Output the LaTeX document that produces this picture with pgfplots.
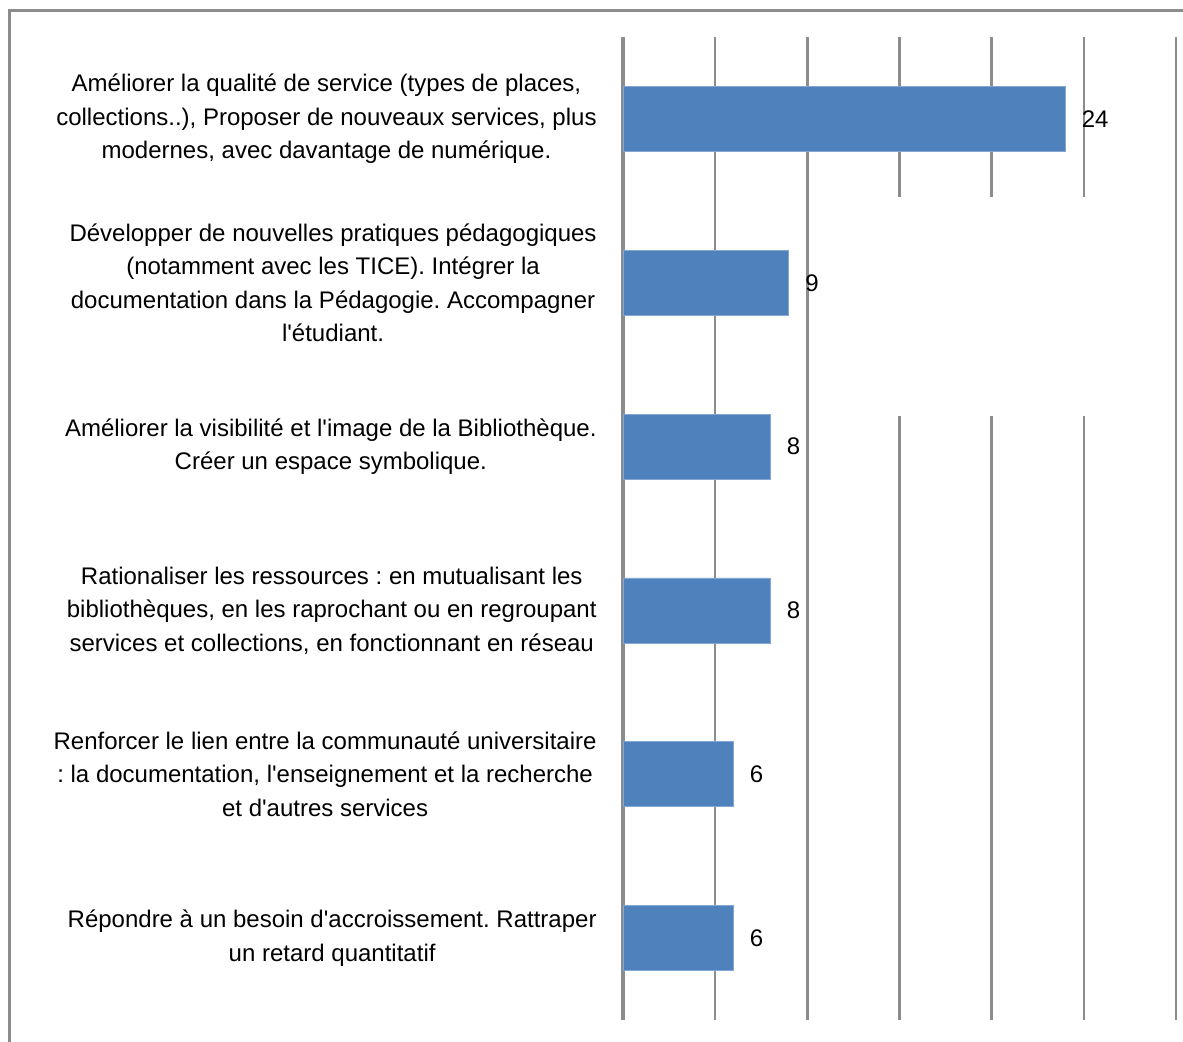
\documentclass[border=0pt]{standalone}
\usepackage{fontspec}
\setmainfont{Liberation Sans}
\usepackage{pgfplots}
\pgfplotsset{compat=1.18}
\definecolor{barblue}{HTML}{4F81BD}
\definecolor{gridgray}{HTML}{8C8C8C}
\newcommand{\q}{\textquotesingle}
\frenchspacing
\begin{document}
\begin{tikzpicture}
\useasboundingbox (-311.5pt,-10.5pt) rectangle (280pt,510pt);
\draw[gridgray, line width=1.5pt] (-306.75pt,-12pt) -- (-306.75pt,504.75pt) -- (285pt,504.75pt);
\begin{axis}[
  at={(0pt,0pt)}, anchor=south west,
  scale only axis,
  width=276.5pt, height=491.5pt,
  xbar, bar width=32.5pt,
  xmin=0, xmax=30,
  ymin=-0.5, ymax=5.5,
  y dir=reverse,
  axis lines*=left,
  x axis line style={draw=none},
  y axis line style={gridgray, line width=1.6pt, -},
  xtick={0,5,...,30},
  xticklabels={},
  xmajorgrids,
  major grid style={gridgray, line width=1.2pt},
  ytick={0,...,5},
  major tick length=0pt,
  tick style={draw=none},
  yticklabels={
    {Améliorer la qualité de service (types de places,\\collections..), Proposer de nouveaux services, plus\\modernes, avec davantage de numérique.},
    {Développer de nouvelles pratiques pédagogiques\\(notamment avec les TICE). Intégrer la\\documentation dans la Pédagogie. Accompagner\\l\q étudiant.},
    {Améliorer la visibilité et l\q image de la Bibliothèque.\\Créer un espace symbolique.},
    {Rationaliser les ressources : en mutualisant les\\bibliothèques, en les raprochant ou en regroupant\\services et collections, en fonctionnant en réseau},
    {Renforcer le lien entre la communauté universitaire\\: la documentation, l\q enseignement et la recherche\\et d\q autres services},
    {Répondre à un besoin d\q accroissement. Rattraper\\un retard quantitatif}
  },
  yticklabel style={align=center, font=\fontsize{12}{16.75}\selectfont, inner sep=0pt, xshift=-13pt, text=black},
  nodes near coords={\pgfmathprintnumber[assume math mode=true]{\pgfplotspointmeta}},
  nodes near coords style={font=\fontsize{12}{14}\selectfont, anchor=west, inner sep=0pt, xshift=8pt, text=black},
  clip=false,
]
\fill[white] (axis cs:12,0.4766) rectangle (axis cs:28,1.813);
\addplot[fill=barblue, draw=barblue!70!white, line width=0.4pt] coordinates {(24,0) (9,1) (8,2) (8,3) (6,4) (6,5)};
\end{axis}
\end{tikzpicture}
\end{document}
